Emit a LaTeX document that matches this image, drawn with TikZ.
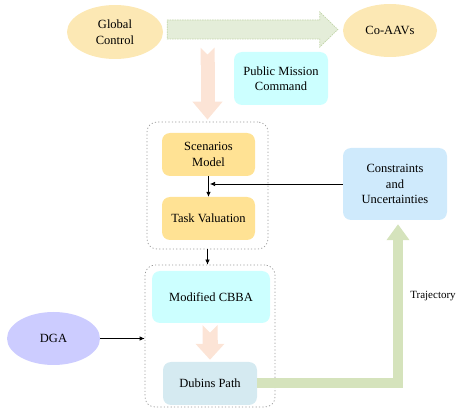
\documentclass[tikz,border=0pt]{standalone}
\usepackage{fontspec}
\setmainfont{Liberation Serif}
\newfontfamily\tnr{Liberation Serif}
\usetikzlibrary{shapes.geometric,arrows.meta,calc}
\definecolor{ellc}{HTML}{FCE8B4}
\definecolor{yelc}{HTML}{FFE294}
\definecolor{cyanc}{HTML}{CCFFFF}
\definecolor{consc}{HTML}{CFEAFC}
\definecolor{dubc}{HTML}{D5EAF1}
\definecolor{dgac}{HTML}{CCCCFF}
\definecolor{trajc}{HTML}{D5E3BC}
\definecolor{gfill}{HTML}{E4EDD9}
\definecolor{gline}{HTML}{C2D5A9}
\definecolor{pinkc}{HTML}{FCE4D6}
\begin{document}
\begin{tikzpicture}[x=1pt,y=-1pt,
  txt/.style={font=\tnr\fontsize{12.5}{15.5}\selectfont, align=center, text=black},
  ell/.style={txt, ellipse, inner sep=0pt},
  box/.style={txt, rectangle, rounded corners=8pt, inner sep=0pt},
  grp/.style={draw=black!40, dash pattern=on 1.2pt off 2.2pt, line width=0.7pt, rounded corners=10pt, rectangle, inner sep=0pt},
  blk/.style={draw=black, line width=0.7pt, -{Latex[length=5pt,width=4.5pt]}},
  pinkarr/.style={draw=pinkc, line width=14pt, {Triangle Cap[reversed]}-{Triangle[length=18pt,width=29pt]}},
  trajarr/.style={draw=trajc, line width=10pt, -{Triangle[length=16pt,width=22pt]}},
]
\useasboundingbox (0,0) rectangle (475,409);

% nodes
\node[ell, fill=ellc, minimum width=96pt, minimum height=54pt] (gc) at (115,32) {Global\\Control};
\node[ell, fill=ellc, minimum width=94pt, minimum height=53pt] (co) at (390,30.5) {Co-AAVs};
\node[box, fill=cyanc, minimum width=94pt, minimum height=53pt] (pmc) at (281,78.5) {Public Mission\\Command};

\node[grp, minimum width=121pt, minimum height=127pt] (g1) at (207.5,185.5) {};
\node[box, fill=yelc, minimum width=93pt, minimum height=43pt] (scen) at (208.5,154.5) {Scenarios\\Model};
\node[box, fill=yelc, minimum width=93pt, minimum height=43pt] (task) at (208.5,218.5) {Task Valuation};

\node[box, fill=consc, minimum width=104pt, minimum height=72pt] (cons) at (395,184) {Constraints\\and\\Uncertainties};

\node[grp, minimum width=130pt, minimum height=142pt] (g2) at (210,336) {};
\node[box, fill=cyanc, minimum width=118pt, minimum height=52pt] (cbba) at (211,297) {Modified CBBA};
\node[box, fill=dubc, minimum width=94pt, minimum height=43pt] (dub) at (210,383.5) {Dubins Path};

\node[ell, fill=dgac, minimum width=93pt, minimum height=53pt] (dga) at (53.5,338.5) {DGA};

\node[txt, font=\tnr\fontsize{11}{13}\selectfont] (trl) at (433,296) {Trajectory};

% green dashed block arrow Global Control -> Co-AAVs
\coordinate (ge) at ($(co.west)+(-5,-1)$);
\coordinate (gs) at ($(gc.east |- ge)+(4,0)$);
\draw[draw=gline, fill=gfill, line width=0.7pt, dash pattern=on 1.5pt off 1pt]
  ($(gs)+(0,-9.5)$) -- ($(ge)+(-18,-9.5)$) -- ($(ge)+(-18,-17.5)$) -- (ge)
  -- ($(ge)+(-18,17.5)$) -- ($(ge)+(-18,9.5)$) -- ($(gs)+(0,9.5)$) -- cycle;

% pink arrows
\draw[pinkarr] ($(g1.north)+(0,-74)$) -- ($(g1.north)+(0,-2)$);
\draw[pinkarr, line width=15pt, {Triangle Cap[reversed]}-{Triangle[length=16pt,width=28pt]}] ($(cbba.south)+(-1,2)$) -- ($(dub.north)+(0,-2)$);

% trajectory
\draw[trajarr] (dub.east) -| ($(cons.south)+(3,4)$);

% black arrows
\draw[blk] (scen.south) -- (task.north);
\draw[blk] (cons.west) -- ($(cons.west -| scen.south)+(1.5,0)$);
\draw[blk] (g1.south) -- (g1.south |- g2.north);
\draw[blk] (dga.east) -- (dga.east -| g2.west);
\end{tikzpicture}
\end{document}
